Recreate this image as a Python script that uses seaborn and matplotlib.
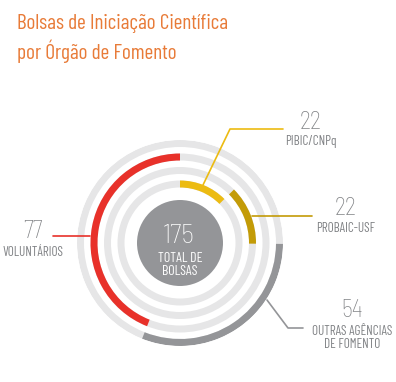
import matplotlib
matplotlib.use("Agg")
import matplotlib.pyplot as plt
import seaborn as sns
import numpy as np

# data
categories = ["PIBIC/CNPq", "PROBAIC-USF", "OUTRAS AGÊNCIAS\nDE FOMENTO", "VOLUNTÁRIOS"]
values = [22, 22, 54, 77]
colors = ["#ecbb12", "#c39b07", "#949598", "#e8312a"]
ring_radius = [59, 72.5, 86, 99.5]  # ring each category sits on (px)
ring_order = [0, 1, 3, 2]          # ring index per category
total = sum(values)

sns.set_theme(style="white")
plt.rcParams['font.family'] = ['Barlow Condensed', 'DejaVu Sans']
num_font = ['Barlow Semi Condensed', 'DejaVu Sans']

W, H = 396, 382
fig = plt.figure(figsize=(W / 100, H / 100), dpi=100)
fig.patch.set_facecolor("white")

# polar axes for the rings, centre at (180, 243) px, radius 103 px
cx, cy, R = 180, 243, 103
ax = fig.add_axes([(cx - R) / W, (H - cy - R) / H, 2 * R / W, 2 * R / H], projection="polar")
ax.set_theta_zero_location("N")
ax.set_theta_direction(-1)
ax.set_ylim(0, R)
ax.set_axis_off()

thick = 7
light = "#e6e6e7"
for r in ring_radius:
    ax.bar(0, thick, width=2 * np.pi, bottom=r - thick / 2, color=light, linewidth=0, align="edge")

# centre disc
ax.bar(0, 43, width=2 * np.pi, bottom=0, color="#949598", linewidth=0, align="edge")

start = 0
for v, c, ri in zip(values, colors, ring_order):
    theta0 = start / total * 2 * np.pi
    width = v / total * 2 * np.pi
    r = ring_radius[ri]
    ax.bar(theta0, thick, width=width, bottom=r - thick / 2, color=c, linewidth=0, align="edge")
    start += v

# overlay in pixel coordinates for texts and leader lines
ov = fig.add_axes([0, 0, 1, 1])
ov.set_xlim(0, W)
ov.set_ylim(H, 0)
ov.set_axis_off()
ov.patch.set_alpha(0)

orange = "#e87b38"
ov.text(17, 29, "Bolsas de Iniciação Científica", color=orange, fontsize=15.3, va="baseline", ha="left")
ov.text(17, 59, "por Órgão de Fomento", color=orange, fontsize=15.3, va="baseline", ha="left")

txt = "#808285"
ov.text(179, 243, "175", color="white", fontsize=20, ha="center", va="baseline",
        weight="light", family=num_font)
ov.text(180, 262, "TOTAL DE", color="white", fontsize=10, ha="center", va="baseline")
ov.text(180, 275, "BOLSAS", color="white", fontsize=10, ha="center", va="baseline")

# leader lines
ov.plot([203, 230, 283], [185, 129, 129], color=colors[0], lw=1.2)
ov.plot([252, 312], [216, 216], color=colors[1], lw=1.2)
ov.plot([267, 288, 303], [300, 328, 328], color=colors[2], lw=1.2)
ov.plot([53, 90], [236, 236], color=colors[3], lw=1.2)

# labels
label_pos = [(311, 129, 145), (346, 215, 232), (352, 317, 335), (33, 238, 256)]
for cat, v, (x, yn, yl) in zip(categories, values, label_pos):
    ov.text(x, yn, str(v), color=txt, fontsize=17.5, ha="center", va="baseline",
            weight="light", family=num_font)
    for k, line in enumerate(cat.split("\n")):
        ov.text(x, yl + k * 13, line, color=txt, fontsize=9.5, ha="center", va="baseline")

fig.savefig("out.png", dpi=100, facecolor="white")
